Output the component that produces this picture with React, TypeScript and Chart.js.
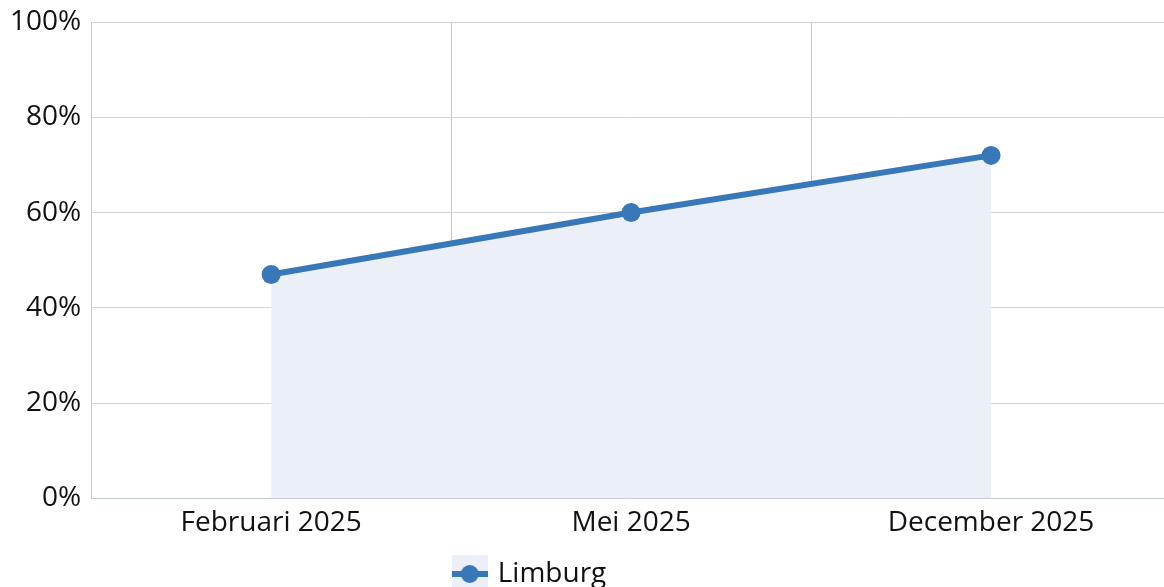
import React, { useEffect, useRef } from "react";
import { Chart, registerables } from "chart.js";

Chart.register(...registerables);

const categories = ["Februari 2025", "Mei 2025", "December 2025"];
const seriesName = "Limburg";
const seriesValues = [47, 60, 72];
const yTicks = [0, 20, 40, 60, 80, 100];

const LINE = "#3877b8";
const FILL = "#eaeff8";
const GRID_H = "#d3d5db";
const GRID_V = "#bfc4cd";
const AXIS = "#c3c9d4";
const FONT = "'Open Sans', 'Noto Sans', sans-serif";

function legendIcon(): HTMLCanvasElement {
  const c = document.createElement("canvas");
  c.width = 36;
  c.height = 38;
  const ctx = c.getContext("2d")!;
  ctx.fillStyle = FILL;
  ctx.fillRect(0, 0, 36, 38);
  ctx.strokeStyle = LINE;
  ctx.lineWidth = 6;
  ctx.beginPath();
  ctx.moveTo(0, 19);
  ctx.lineTo(36, 19);
  ctx.stroke();
  ctx.fillStyle = LINE;
  ctx.beginPath();
  ctx.arc(18, 19, 9, 0, Math.PI * 2);
  ctx.fill();
  return c;
}

const legendShift = {
  id: "legendShift",
  afterLayout(chart: any) {
    if (chart.legend) {
      chart.legend.right = 1062;
    }
  },
};

export default function App() {
  const ref = useRef<HTMLCanvasElement>(null);
  useEffect(() => {
    document.documentElement.style.overflow = "hidden";
    document.body.style.overflow = "hidden";
    document.body.style.margin = "0";
    const icon = legendIcon();
    const chart = new Chart(ref.current!, {
      type: "line",
      data: {
        labels: categories,
        datasets: [
          {
            label: seriesName,
            data: seriesValues,
            borderColor: LINE,
            backgroundColor: FILL,
            fill: "origin",
            borderWidth: 6,
            pointRadius: 9.5,
            pointBackgroundColor: LINE,
            pointBorderColor: LINE,
            pointBorderWidth: 0,
            tension: 0,
            pointStyle: "circle",
          },
        ],
      },
      plugins: [legendShift],
      options: {
        animation: false,
        responsive: false,
        maintainAspectRatio: false,
        layout: { autoPadding: false, padding: { left: 0, right: 1, top: 0, bottom: 0 } },
        scales: {
          x: {
            offset: true,
            grid: { offset: true, color: GRID_V, drawTicks: false },
            border: { color: AXIS },
            ticks: { color: "#111", font: { family: FONT, size: 28 }, padding: 8 },
          },
          y: {
            min: 0,
            max: 100,
            afterBuildTicks: (axis: any) => {
              axis.ticks = yTicks.map((v) => ({ value: v }));
            },
            afterFit: (scale: any) => {
              scale.paddingTop = 22;
            },
            grid: { color: GRID_H, drawTicks: false },
            border: { color: AXIS },
            ticks: {
              color: "#111",
              font: { family: FONT, size: 28 },
              padding: 10,
              callback: (v: any) => v + "%",
            },
          },
        },
        plugins: {
          tooltip: { enabled: false },
          legend: {
            position: "bottom",
            labels: {
              color: "#111",
              font: { family: FONT, size: 28 },
              usePointStyle: true,
              padding: 12,
              generateLabels: (ch: any) =>
                ch.data.datasets.map((d: any, i: number) => ({
                  text: d.label,
                  pointStyle: icon,
                  fillStyle: FILL,
                  strokeStyle: LINE,
                  lineWidth: 0,
                  hidden: false,
                  datasetIndex: i,
                  fontColor: "#111",
                })),
            },
          },
        },
      },
    });
    return () => chart.destroy();
  }, []);
  return (
    <div style={{ width: 1172, height: 598 }}>
      <canvas ref={ref} width={1172} height={598} style={{ display: "block" }} />
    </div>
  );
}
